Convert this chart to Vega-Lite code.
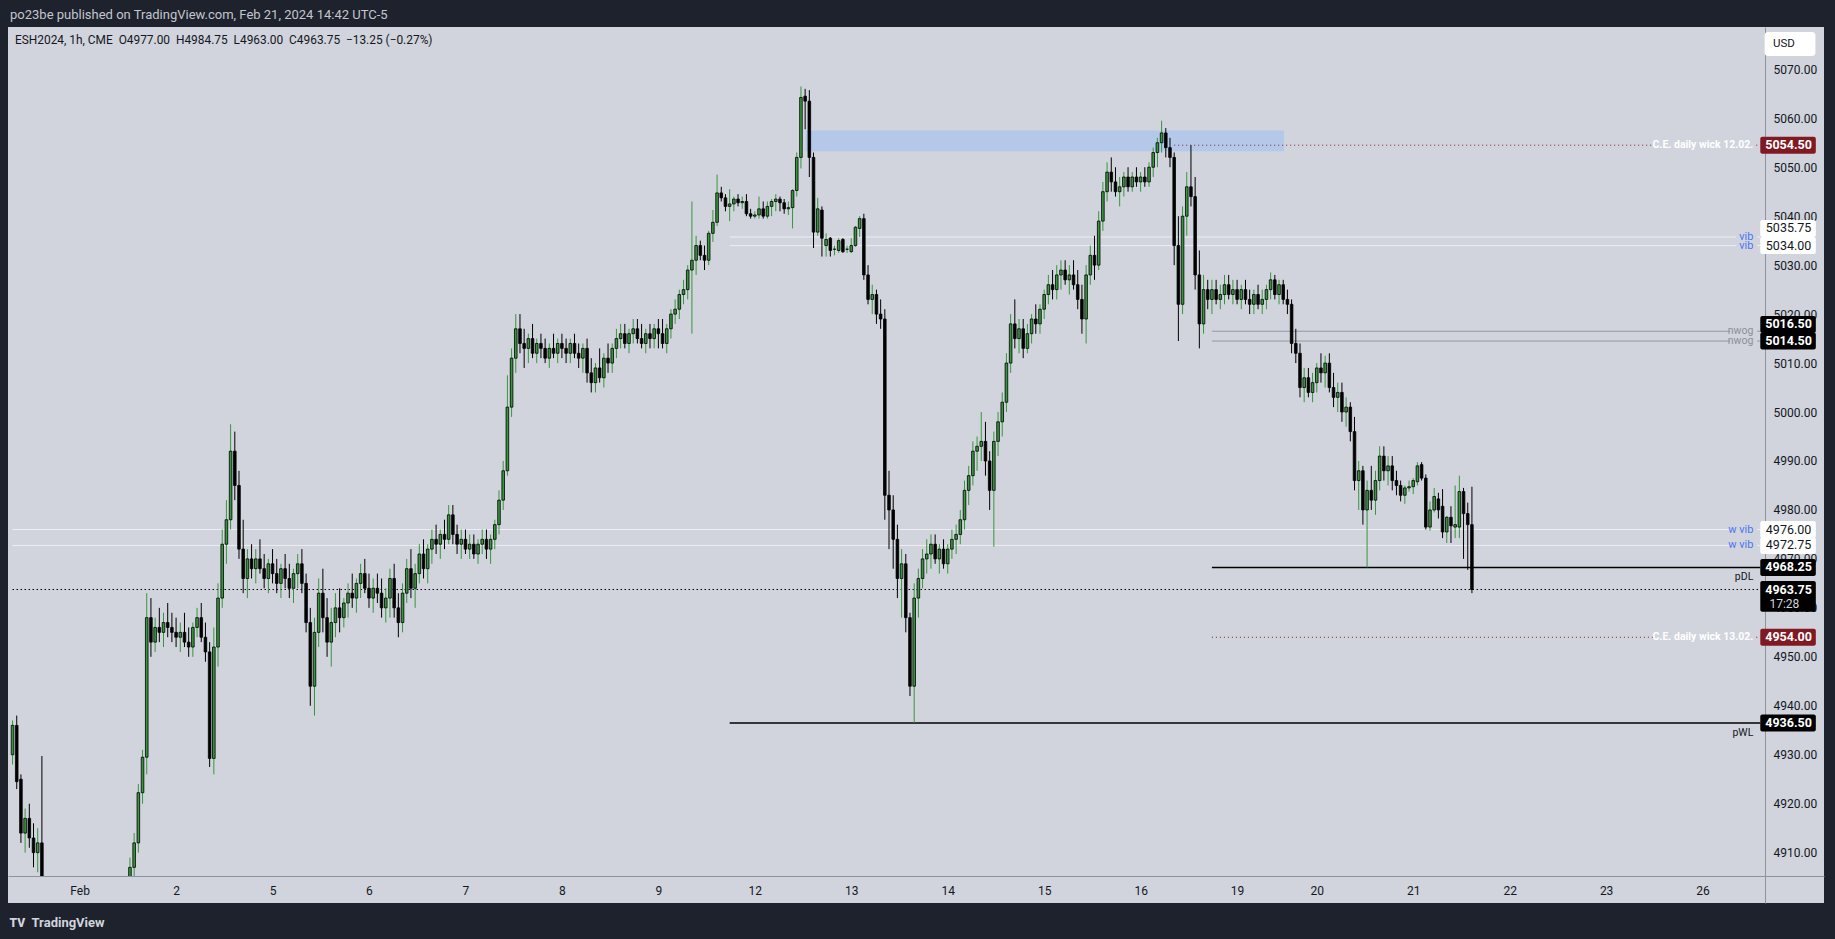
{
"$schema": "https://vega.github.io/schema/vega-lite/v6.json",
"width": 1816, "height": 876,
"autosize": {"type": "none"},
"padding": {"left": 8, "top": 27, "right": 11, "bottom": 36},
"background": "#1e222d",
"view": {"fill": "#d1d4dc", "stroke": null},
"config": {"font": "Roboto"},
"title": {"text": "po23be published on TradingView.com, Feb 21, 2024 14:42 UTC-5", "anchor": "start", "frame": "group", "offset": 5, "dx": 2, "color": "#c3c6ce", "fontSize": 13, "fontWeight": "normal", "font": "Roboto"},
"datasets": {
"candles": [
{"i":-16,"o":4930,"h":4937,"l":4928,"c":4936},{"i":-15,"o":4936,"h":4938,"l":4923,"c":4924.5},{"i":-14,"o":4925,"h":4926,"l":4912,"c":4914},{"i":-13,"o":4914,"h":4919,"l":4910,"c":4917},{"i":-12,"o":4917,"h":4920,"l":4911,"c":4913},{"i":-11,"o":4913,"h":4916,"l":4907,"c":4910},{"i":-10,"o":4910,"h":4915,"l":4906,"c":4912},{"i":-9,"o":4912,"h":4929.75,"l":4895,"c":4899},{"i":-8,"o":4899,"h":4903,"l":4884,"c":4888},{"i":-7,"o":4888,"h":4895,"l":4885,"c":4893},{"i":-6,"o":4893,"h":4897,"l":4889,"c":4891},{"i":-5,"o":4891,"h":4895,"l":4887,"c":4893},{"i":-4,"o":4893,"h":4897,"l":4890,"c":4892},{"i":-3,"o":4892,"h":4895,"l":4889,"c":4894},{"i":-2,"o":4894,"h":4898,"l":4891,"c":4893},{"i":-1,"o":4893,"h":4896,"l":4889,"c":4892},
{"i":0,"o":4892,"h":4896,"l":4888,"c":4894},{"i":1,"o":4894,"h":4897,"l":4890,"c":4891},{"i":2,"o":4891,"h":4895,"l":4887,"c":4893},{"i":3,"o":4893,"h":4899,"l":4891,"c":4897},{"i":4,"o":4897,"h":4900,"l":4893,"c":4895},{"i":5,"o":4895,"h":4899,"l":4892,"c":4898},{"i":6,"o":4898,"h":4902,"l":4895,"c":4900},{"i":7,"o":4900,"h":4903,"l":4894,"c":4896},{"i":8,"o":4896,"h":4901,"l":4892,"c":4899},{"i":9,"o":4899,"h":4903,"l":4895,"c":4901},{"i":10,"o":4901,"h":4904,"l":4897,"c":4900},{"i":11,"o":4900,"h":4905,"l":4896,"c":4903},{"i":12,"o":4903,"h":4909,"l":4900,"c":4907},{"i":13,"o":4907,"h":4914,"l":4905,"c":4912},{"i":14,"o":4912,"h":4924,"l":4910,"c":4922.25},{"i":15,"o":4922.25,"h":4931,"l":4920,"c":4929.5},{"i":16,"o":4929.5,"h":4963,"l":4926,"c":4958},{"i":17,"o":4958,"h":4962,"l":4950,"c":4953},{"i":18,"o":4953,"h":4958,"l":4951,"c":4956},{"i":19,"o":4956,"h":4960,"l":4953,"c":4955},{"i":20,"o":4955,"h":4959,"l":4952,"c":4957},{"i":21,"o":4957,"h":4961,"l":4954,"c":4956},{"i":22,"o":4956,"h":4959,"l":4953,"c":4955},
{"i":23,"o":4955,"h":4958,"l":4952,"c":4954},{"i":24,"o":4954,"h":4957,"l":4951,"c":4955},{"i":25,"o":4955,"h":4959,"l":4952,"c":4953},{"i":26,"o":4953,"h":4956,"l":4950,"c":4952},{"i":27,"o":4952,"h":4957,"l":4950,"c":4956},{"i":28,"o":4956,"h":4960,"l":4954,"c":4958},{"i":29,"o":4958,"h":4961,"l":4953,"c":4954},{"i":30,"o":4954,"h":4957,"l":4949,"c":4951},{"i":31,"o":4951,"h":4953,"l":4927.5,"c":4929.25},{"i":32,"o":4929.25,"h":4956,"l":4926,"c":4952},{"i":33,"o":4952,"h":4965,"l":4948,"c":4962},{"i":34,"o":4962,"h":4976,"l":4960,"c":4973},{"i":35,"o":4973,"h":4982,"l":4969,"c":4978},{"i":36,"o":4978,"h":4997.5,"l":4976,"c":4992},{"i":37,"o":4992,"h":4996,"l":4982,"c":4985},{"i":38,"o":4985,"h":4988,"l":4970,"c":4972},{"i":39,"o":4972,"h":4978,"l":4963,"c":4966},{"i":40,"o":4966,"h":4972,"l":4962,"c":4970},{"i":41,"o":4970,"h":4973,"l":4966,"c":4968},{"i":42,"o":4968,"h":4972,"l":4965,"c":4970},{"i":43,"o":4970,"h":4974,"l":4967,"c":4968},{"i":44,"o":4968,"h":4971,"l":4964,"c":4966},{"i":45,"o":4966,"h":4970,"l":4963,"c":4969},
{"i":46,"o":4969,"h":4972,"l":4965,"c":4967},{"i":47,"o":4967,"h":4970,"l":4963,"c":4965},{"i":48,"o":4965,"h":4969,"l":4962,"c":4968},{"i":49,"o":4968,"h":4971,"l":4964,"c":4966},{"i":50,"o":4966,"h":4969,"l":4962,"c":4964},{"i":51,"o":4964,"h":4968,"l":4961,"c":4967},{"i":52,"o":4967,"h":4971,"l":4964,"c":4969},{"i":53,"o":4969,"h":4972,"l":4963,"c":4965},{"i":54,"o":4965,"h":4967,"l":4955,"c":4957},{"i":55,"o":4957,"h":4960,"l":4940,"c":4944},{"i":56,"o":4944,"h":4958,"l":4938,"c":4955},{"i":57,"o":4955,"h":4966,"l":4952,"c":4963},{"i":58,"o":4963,"h":4968,"l":4955,"c":4958},{"i":59,"o":4958,"h":4962,"l":4950,"c":4953},{"i":60,"o":4953,"h":4960,"l":4948,"c":4957},{"i":61,"o":4957,"h":4963,"l":4954,"c":4960},{"i":62,"o":4960,"h":4964,"l":4955,"c":4958},{"i":63,"o":4958,"h":4962,"l":4956,"c":4961},{"i":64,"o":4961,"h":4965,"l":4958,"c":4963},{"i":65,"o":4963,"h":4967,"l":4960,"c":4962},{"i":66,"o":4962,"h":4966,"l":4959,"c":4965},{"i":67,"o":4965,"h":4969,"l":4962,"c":4967},{"i":68,"o":4967,"h":4970,"l":4963,"c":4964},
{"i":69,"o":4964,"h":4967,"l":4960,"c":4962},{"i":70,"o":4962,"h":4966,"l":4959,"c":4964},{"i":71,"o":4964,"h":4967,"l":4961,"c":4963},{"i":72,"o":4963,"h":4966,"l":4958,"c":4960},{"i":73,"o":4960,"h":4964,"l":4957,"c":4962},{"i":74,"o":4962,"h":4968,"l":4958,"c":4966},{"i":75,"o":4966,"h":4969,"l":4958,"c":4960},{"i":76,"o":4960,"h":4963,"l":4954,"c":4957},{"i":77,"o":4957,"h":4965,"l":4955,"c":4963},{"i":78,"o":4963,"h":4970,"l":4961,"c":4968},{"i":79,"o":4968,"h":4972,"l":4962,"c":4964},{"i":80,"o":4964,"h":4969,"l":4960,"c":4967},{"i":81,"o":4967,"h":4973,"l":4965,"c":4971},{"i":82,"o":4971,"h":4974,"l":4966,"c":4968},{"i":83,"o":4968,"h":4973,"l":4965,"c":4972},{"i":84,"o":4972,"h":4976,"l":4969,"c":4974},{"i":85,"o":4974,"h":4977,"l":4971,"c":4973},{"i":86,"o":4973,"h":4976,"l":4970,"c":4975},{"i":87,"o":4975,"h":4978,"l":4972,"c":4974},{"i":88,"o":4974,"h":4981,"l":4973,"c":4979},{"i":89,"o":4979,"h":4981,"l":4973,"c":4975},{"i":90,"o":4975,"h":4977,"l":4971,"c":4973},{"i":91,"o":4973,"h":4976,"l":4970,"c":4974},
{"i":92,"o":4974,"h":4976,"l":4971,"c":4972},{"i":93,"o":4972,"h":4975,"l":4970,"c":4973},{"i":94,"o":4973,"h":4975,"l":4970,"c":4971},{"i":95,"o":4971,"h":4974,"l":4969,"c":4973},{"i":96,"o":4973,"h":4976,"l":4971,"c":4974},{"i":97,"o":4974,"h":4976,"l":4970,"c":4972},{"i":98,"o":4972,"h":4975,"l":4969,"c":4974},{"i":99,"o":4974,"h":4978,"l":4972,"c":4977},{"i":100,"o":4977,"h":4984,"l":4975,"c":4982},{"i":101,"o":4982,"h":4990,"l":4980,"c":4988},{"i":102,"o":4988,"h":5007.5,"l":4987,"c":5001},{"i":103,"o":5001,"h":5013,"l":4999,"c":5011},{"i":104,"o":5011,"h":5020,"l":5008,"c":5017},{"i":105,"o":5017,"h":5020,"l":5012,"c":5014},{"i":106,"o":5014,"h":5017,"l":5009,"c":5013},{"i":107,"o":5013,"h":5016,"l":5010,"c":5015},{"i":108,"o":5015,"h":5018,"l":5011,"c":5012},{"i":109,"o":5012,"h":5015,"l":5010,"c":5014},{"i":110,"o":5014,"h":5016,"l":5011,"c":5013},{"i":111,"o":5013,"h":5015,"l":5010,"c":5011},{"i":112,"o":5011,"h":5014,"l":5009,"c":5013},{"i":113,"o":5013,"h":5016,"l":5011,"c":5012},{"i":114,"o":5012,"h":5015,"l":5010,"c":5014},
{"i":115,"o":5014,"h":5016,"l":5011,"c":5013},{"i":116,"o":5013,"h":5015,"l":5010,"c":5012},{"i":117,"o":5012,"h":5015,"l":5010,"c":5014},{"i":118,"o":5014,"h":5016,"l":5011,"c":5012},{"i":119,"o":5012,"h":5014,"l":5009,"c":5011},{"i":120,"o":5011,"h":5014,"l":5008,"c":5013},{"i":121,"o":5013,"h":5015,"l":5006,"c":5008},{"i":122,"o":5008,"h":5011,"l":5004,"c":5006},{"i":123,"o":5006,"h":5010,"l":5004,"c":5009},{"i":124,"o":5009,"h":5013,"l":5006,"c":5007},{"i":125,"o":5007,"h":5012,"l":5005,"c":5011},{"i":126,"o":5011,"h":5014,"l":5008,"c":5010},{"i":127,"o":5010,"h":5014,"l":5008,"c":5013},{"i":128,"o":5013,"h":5017,"l":5011,"c":5015},{"i":129,"o":5015,"h":5018,"l":5013,"c":5016},{"i":130,"o":5016,"h":5018,"l":5013,"c":5014},{"i":131,"o":5014,"h":5017,"l":5012,"c":5016},{"i":132,"o":5016,"h":5019,"l":5014,"c":5017},{"i":133,"o":5017,"h":5019,"l":5014,"c":5015},{"i":134,"o":5015,"h":5018,"l":5013,"c":5014},{"i":135,"o":5014,"h":5017,"l":5012,"c":5016},{"i":136,"o":5016,"h":5018,"l":5013,"c":5015},{"i":137,"o":5015,"h":5018,"l":5013,"c":5017},
{"i":138,"o":5017,"h":5019,"l":5013,"c":5016},{"i":139,"o":5016,"h":5019,"l":5013,"c":5014},{"i":140,"o":5014,"h":5018,"l":5012,"c":5017},{"i":141,"o":5017,"h":5021,"l":5015,"c":5020},{"i":142,"o":5020,"h":5023,"l":5018,"c":5021},{"i":143,"o":5021,"h":5025,"l":5019,"c":5024},{"i":144,"o":5024,"h":5027,"l":5022,"c":5025},{"i":145,"o":5025,"h":5030,"l":5023,"c":5029},{"i":146,"o":5029,"h":5043,"l":5016,"c":5031},{"i":147,"o":5031,"h":5036,"l":5028,"c":5034},{"i":148,"o":5034,"h":5035,"l":5031,"c":5032},{"i":149,"o":5032,"h":5034,"l":5029,"c":5031},{"i":150,"o":5031,"h":5037,"l":5030,"c":5036.5},{"i":151,"o":5036.5,"h":5041.25,"l":5034.75,"c":5038.75},{"i":152,"o":5038.75,"h":5048.5,"l":5038,"c":5044.75},{"i":153,"o":5044.75,"h":5046,"l":5043,"c":5043.75},{"i":154,"o":5043.75,"h":5044.5,"l":5041,"c":5042},{"i":155,"o":5042,"h":5045.5,"l":5039,"c":5042.5},{"i":156,"o":5042.5,"h":5044,"l":5041,"c":5043.5},{"i":157,"o":5043.5,"h":5044.5,"l":5042,"c":5042.75},{"i":158,"o":5042.75,"h":5044,"l":5041.5,"c":5043},{"i":159,"o":5043,"h":5044.5,"l":5040,"c":5040.5},{"i":160,"o":5040.5,"h":5041.5,"l":5039.5,"c":5040},
{"i":161,"o":5040,"h":5041,"l":5039.5,"c":5040.25},{"i":162,"o":5040.25,"h":5044,"l":5039.5,"c":5041.5},{"i":163,"o":5041.5,"h":5043,"l":5039.5,"c":5040},{"i":164,"o":5040,"h":5043,"l":5039.5,"c":5042},{"i":165,"o":5042,"h":5043.5,"l":5040,"c":5043},{"i":166,"o":5043,"h":5044.5,"l":5041,"c":5043.5},{"i":167,"o":5043.5,"h":5044,"l":5041,"c":5042.75},{"i":168,"o":5042.75,"h":5043.5,"l":5040.5,"c":5041.5},{"i":169,"o":5041.5,"h":5043,"l":5040.25,"c":5041.75},{"i":170,"o":5041.75,"h":5045.5,"l":5037.5,"c":5045.25},{"i":171,"o":5045.25,"h":5053,"l":5044,"c":5052},{"i":172,"o":5052,"h":5066.5,"l":5049.75,"c":5064.25},{"i":173,"o":5064.5,"h":5066,"l":5057.75,"c":5063.5},{"i":174,"o":5063.5,"h":5065.75,"l":5048,"c":5052},{"i":175,"o":5052,"h":5053,"l":5033.5,"c":5036.75},{"i":176,"o":5036.75,"h":5043.75,"l":5036,"c":5041.5},{"i":177,"o":5041.25,"h":5042,"l":5031.75,"c":5035.5},{"i":178,"o":5034,"h":5036.5,"l":5031.75,"c":5035.25},{"i":179,"o":5035.5,"h":5035.75,"l":5031.75,"c":5033},{"i":180,"o":5033.25,"h":5034,"l":5032,"c":5033.25},{"i":181,"o":5033,"h":5035.5,"l":5032.5,"c":5035},{"i":182,"o":5035.25,"h":5035.5,"l":5032.5,"c":5032.75},{"i":183,"o":5033.25,"h":5034,"l":5032.5,"c":5033.25},
{"i":184,"o":5032.75,"h":5035.5,"l":5032.5,"c":5034},{"i":185,"o":5034,"h":5038,"l":5033.75,"c":5037.75},{"i":186,"o":5037.5,"h":5040,"l":5035.75,"c":5039.5},{"i":187,"o":5039.5,"h":5040.5,"l":5027,"c":5028},{"i":188,"o":5028,"h":5030,"l":5022,"c":5023},{"i":189,"o":5023,"h":5026,"l":5020,"c":5024},{"i":190,"o":5024,"h":5025,"l":5018,"c":5020},{"i":191,"o":5020,"h":5023,"l":5017,"c":5019},{"i":192,"o":5019,"h":5021,"l":4978,"c":4983},{"i":193,"o":4983,"h":4988,"l":4972,"c":4980},{"i":194,"o":4980,"h":4983,"l":4968,"c":4974},{"i":195,"o":4974,"h":4977,"l":4962,"c":4966},{"i":196,"o":4966,"h":4972,"l":4958,"c":4969},{"i":197,"o":4969,"h":4971,"l":4955,"c":4958},{"i":198,"o":4958,"h":4959,"l":4942,"c":4944},{"i":199,"o":4944,"h":4965,"l":4936.5,"c":4962},{"i":200,"o":4962,"h":4968,"l":4958,"c":4966},{"i":201,"o":4966,"h":4972,"l":4964,"c":4970},{"i":202,"o":4970,"h":4974,"l":4967,"c":4971},{"i":203,"o":4971,"h":4975,"l":4968,"c":4973},{"i":204,"o":4973,"h":4975,"l":4969,"c":4970},{"i":205,"o":4970,"h":4973,"l":4967,"c":4972},{"i":206,"o":4972,"h":4974,"l":4968,"c":4969},
{"i":207,"o":4969,"h":4973,"l":4967,"c":4972},{"i":208,"o":4972,"h":4976,"l":4970,"c":4974},{"i":209,"o":4974,"h":4977,"l":4971,"c":4975},{"i":210,"o":4975,"h":4980,"l":4973,"c":4978},{"i":211,"o":4978,"h":4986,"l":4976,"c":4984},{"i":212,"o":4984,"h":4989,"l":4981,"c":4987},{"i":213,"o":4987,"h":4994,"l":4985,"c":4992},{"i":214,"o":4992,"h":4995,"l":4988,"c":4993},{"i":215,"o":4993,"h":5000,"l":4990,"c":4994},{"i":216,"o":4994,"h":4998,"l":4987,"c":4990},{"i":217,"o":4990,"h":4992,"l":4980,"c":4984},{"i":218,"o":4984,"h":4996,"l":4972.5,"c":4994},{"i":219,"o":4994,"h":5000,"l":4991,"c":4998},{"i":220,"o":4998,"h":5004,"l":4995,"c":5002},{"i":221,"o":5002,"h":5012,"l":5000,"c":5010},{"i":222,"o":5010,"h":5020,"l":5008,"c":5018},{"i":223,"o":5018,"h":5023,"l":5013,"c":5015},{"i":224,"o":5015,"h":5019,"l":5012,"c":5017},{"i":225,"o":5017,"h":5019,"l":5011,"c":5013},{"i":226,"o":5013,"h":5018,"l":5012,"c":5016},{"i":227,"o":5016,"h":5020,"l":5014,"c":5019},{"i":228,"o":5019,"h":5022,"l":5016,"c":5018},{"i":229,"o":5018,"h":5022,"l":5016,"c":5021},
{"i":230,"o":5021,"h":5025,"l":5019,"c":5024},{"i":231,"o":5024,"h":5028,"l":5022,"c":5026},{"i":232,"o":5026,"h":5029,"l":5023,"c":5025},{"i":233,"o":5025,"h":5030,"l":5023,"c":5028},{"i":234,"o":5028,"h":5031,"l":5025,"c":5029},{"i":235,"o":5029,"h":5031,"l":5026,"c":5027},{"i":236,"o":5027,"h":5030,"l":5024,"c":5028},{"i":237,"o":5028,"h":5031,"l":5025,"c":5026},{"i":238,"o":5026,"h":5029,"l":5021,"c":5023},{"i":239,"o":5023,"h":5026,"l":5016,"c":5019},{"i":240,"o":5019,"h":5030,"l":5014,"c":5028},{"i":241,"o":5028,"h":5034,"l":5026,"c":5032},{"i":242,"o":5032,"h":5036,"l":5027,"c":5030},{"i":243,"o":5030,"h":5041,"l":5029,"c":5039},{"i":244,"o":5039,"h":5047,"l":5037,"c":5045},{"i":245,"o":5045,"h":5051,"l":5043,"c":5049},{"i":246,"o":5049,"h":5052,"l":5045,"c":5047},{"i":247,"o":5047,"h":5050,"l":5044,"c":5045},{"i":248,"o":5045,"h":5048,"l":5042,"c":5046},{"i":249,"o":5046,"h":5049,"l":5044,"c":5048},{"i":250,"o":5048,"h":5050,"l":5045,"c":5046},{"i":251,"o":5046,"h":5049,"l":5045,"c":5048},{"i":252,"o":5048,"h":5050,"l":5046,"c":5047},
{"i":253,"o":5047,"h":5049,"l":5045,"c":5048},{"i":254,"o":5048,"h":5050,"l":5046,"c":5047},{"i":255,"o":5047,"h":5051,"l":5046,"c":5050},{"i":256,"o":5050,"h":5054,"l":5048,"c":5053},{"i":257,"o":5053,"h":5056,"l":5050,"c":5055},{"i":258,"o":5055,"h":5059.5,"l":5053,"c":5057},{"i":259,"o":5057,"h":5058,"l":5052,"c":5054},{"i":260,"o":5054,"h":5056,"l":5050,"c":5052},{"i":261,"o":5052,"h":5053,"l":5030,"c":5034},{"i":262,"o":5034,"h":5040,"l":5014.5,"c":5022},{"i":263,"o":5022,"h":5042,"l":5020,"c":5040},{"i":264,"o":5040,"h":5049,"l":5036,"c":5046},{"i":265,"o":5046,"h":5054.5,"l":5042,"c":5044},{"i":266,"o":5044,"h":5048,"l":5025,"c":5028},{"i":267,"o":5028,"h":5033,"l":5013,"c":5018},{"i":268,"o":5018,"h":5028,"l":5016,"c":5025},{"i":269,"o":5025,"h":5027,"l":5021,"c":5023},{"i":270,"o":5023,"h":5027,"l":5020,"c":5025},{"i":271,"o":5025,"h":5027,"l":5022,"c":5023},{"i":272,"o":5023,"h":5026,"l":5021,"c":5024},{"i":273,"o":5024,"h":5028,"l":5022,"c":5026},{"i":274,"o":5026,"h":5028,"l":5023,"c":5024},{"i":275,"o":5024,"h":5027,"l":5022,"c":5025},
{"i":276,"o":5025,"h":5027,"l":5022,"c":5023},{"i":277,"o":5023,"h":5026,"l":5021,"c":5025},{"i":278,"o":5025,"h":5027,"l":5022,"c":5023},{"i":279,"o":5023,"h":5025,"l":5020,"c":5022},{"i":280,"o":5022,"h":5025,"l":5020,"c":5024},{"i":281,"o":5024,"h":5026,"l":5021,"c":5022},{"i":282,"o":5022,"h":5025,"l":5020,"c":5023},{"i":283,"o":5023,"h":5026,"l":5021,"c":5025},{"i":284,"o":5025,"h":5028.5,"l":5023,"c":5027},{"i":285,"o":5027,"h":5028,"l":5023,"c":5024},{"i":286,"o":5024,"h":5027,"l":5022,"c":5026},{"i":287,"o":5026,"h":5027,"l":5022,"c":5023},{"i":288,"o":5023,"h":5025,"l":5020,"c":5022},{"i":289,"o":5022,"h":5023,"l":5012,"c":5014},{"i":290,"o":5014,"h":5017,"l":5010,"c":5012},{"i":291,"o":5012,"h":5014,"l":5003,"c":5005},{"i":292,"o":5005,"h":5009,"l":5002,"c":5007},{"i":293,"o":5007,"h":5009,"l":5003,"c":5004},{"i":294,"o":5004,"h":5008,"l":5002,"c":5006},
{"i":295,"o":5006,"h":5010,"l":5004,"c":5009},{"i":296,"o":5009,"h":5012,"l":5006,"c":5008},{"i":297,"o":5008,"h":5011.5,"l":5005,"c":5010},{"i":298,"o":5010,"h":5012,"l":5004,"c":5005},{"i":299,"o":5005,"h":5008,"l":5001,"c":5003},{"i":300,"o":5003,"h":5006,"l":5000,"c":5004},{"i":301,"o":5004,"h":5006,"l":4998,"c":5000},{"i":302,"o":5000,"h":5003,"l":4997,"c":5001},{"i":303,"o":5001,"h":5002,"l":4994,"c":4996},{"i":304,"o":4996,"h":4999,"l":4984,"c":4986},{"i":305,"o":4986,"h":4990,"l":4980,"c":4988},{"i":306,"o":4988,"h":4989,"l":4977,"c":4980},{"i":307,"o":4980,"h":4986,"l":4968.25,"c":4984},{"i":308,"o":4984,"h":4989,"l":4980,"c":4982},{"i":309,"o":4982,"h":4988,"l":4979,"c":4986},{"i":310,"o":4986,"h":4993,"l":4984,"c":4991},{"i":311,"o":4991,"h":4993,"l":4986,"c":4988},{"i":312,"o":4988,"h":4991,"l":4985,"c":4989},{"i":313,"o":4989,"h":4991,"l":4984,"c":4986},{"i":314,"o":4986,"h":4988,"l":4983,"c":4985},{"i":315,"o":4985,"h":4986,"l":4981.75,"c":4983},{"i":316,"o":4983,"h":4985,"l":4981.25,"c":4984.5},{"i":317,"o":4984.5,"h":4986,"l":4983.75,"c":4984.75},
{"i":318,"o":4984.75,"h":4986.5,"l":4983.25,"c":4986},{"i":319,"o":4985.75,"h":4989.75,"l":4985,"c":4989},{"i":320,"o":4989.25,"h":4989.75,"l":4986,"c":4986.5},{"i":321,"o":4986.5,"h":4987.25,"l":4976,"c":4976.5},{"i":322,"o":4976.5,"h":4981.75,"l":4975.75,"c":4980},{"i":323,"o":4980,"h":4984.5,"l":4979.5,"c":4982.75},{"i":324,"o":4982.25,"h":4983.5,"l":4978.25,"c":4980},{"i":325,"o":4980.75,"h":4984.25,"l":4974.25,"c":4975.5},{"i":326,"o":4975.5,"h":4978.75,"l":4973.25,"c":4978.5},{"i":327,"o":4978.5,"h":4980.75,"l":4973.25,"c":4976.75},{"i":328,"o":4976.5,"h":4985,"l":4974.25,"c":4977},{"i":329,"o":4976.5,"h":4987,"l":4974.25,"c":4983.75},{"i":330,"o":4983.75,"h":4984.5,"l":4970,"c":4979.25},{"i":331,"o":4979.25,"h":4981.5,"l":4967.75,"c":4977},{"i":332,"o":4977,"h":4984.75,"l":4963,"c":4963.75}
],
"levels": [
{"price":5054.5,"from":261,"kind":"ce","label":"C.E. daily wick 12.02.","sub":""},
{"price":5035.75,"from":155,"kind":"vib","label":"vib","sub":""},
{"price":5034.0,"from":155,"kind":"vib","label":"vib","sub":""},
{"price":5016.5,"from":270,"kind":"nwog","label":"nwog","sub":""},
{"price":5014.5,"from":270,"kind":"nwog","label":"nwog","sub":""},
{"price":4976.0,"from":-16,"kind":"wvib","label":"w vib","sub":""},
{"price":4972.75,"from":-16,"kind":"wvib","label":"w vib","sub":""},
{"price":4968.25,"from":270,"kind":"pdl","label":"pDL","sub":""},
{"price":4963.75,"from":-16,"kind":"last","label":"","sub":"17:28"},
{"price":4954.0,"from":270,"kind":"ce","label":"C.E. daily wick 13.02.","sub":""},
{"price":4936.5,"from":155,"kind":"pwl","label":"pWL","sub":""}
],
"zones": [{"start":173.1,"end":287.2,"low":5053.25,"high":5057.5}]
},
"layer": [
{"data": {"name": "zones"}, "mark": {"type": "rect", "fill": "#b4c8e9", "clip": true},
 "encoding": {"x": {"field": "start", "type": "quantitative"}, "x2": {"field": "end"}, "y": {"field": "low", "type": "quantitative"}, "y2": {"field": "high"}}},
{"data": {"name": "levels"}, "transform": [{"filter": "datum.kind == 'ce'"}],
 "mark": {"type": "rule", "stroke": "#8b1d26", "strokeWidth": 1, "strokeDash": [1, 3], "clip": true},
 "encoding": {"x": {"field": "from", "type": "quantitative"}, "x2": {"datum": 375.2}, "y": {"field": "price", "type": "quantitative"}}},
{"data": {"name": "levels"}, "transform": [{"filter": "datum.kind == 'vib'"}],
 "mark": {"type": "rule", "stroke": "#eceef3", "strokeWidth": 1, "clip": true},
 "encoding": {"x": {"field": "from", "type": "quantitative"}, "x2": {"datum": 395.0}, "y": {"field": "price", "type": "quantitative"}}},
{"data": {"name": "levels"}, "transform": [{"filter": "datum.kind == 'nwog'"}],
 "mark": {"type": "rule", "stroke": "#9598a1", "strokeWidth": 1, "clip": true},
 "encoding": {"x": {"field": "from", "type": "quantitative"}, "x2": {"datum": 393.6}, "y": {"field": "price", "type": "quantitative"}}},
{"data": {"name": "levels"}, "transform": [{"filter": "datum.kind == 'wvib'"}],
 "mark": {"type": "rule", "stroke": "#eceef3", "strokeWidth": 1, "clip": true},
 "encoding": {"x": {"field": "from", "type": "quantitative"}, "x2": {"datum": 393.4}, "y": {"field": "price", "type": "quantitative"}}},
{"data": {"name": "levels"}, "transform": [{"filter": "datum.kind == 'pdl' || datum.kind == 'pwl'"}],
 "mark": {"type": "rule", "stroke": "#000000", "strokeWidth": 1.5, "clip": true},
 "encoding": {"x": {"field": "from", "type": "quantitative"}, "x2": {"datum": 400.76}, "y": {"field": "price", "type": "quantitative"}}},
{"data": {"name": "levels"}, "transform": [{"filter": "datum.kind == 'last'"}],
 "mark": {"type": "rule", "stroke": "#000000", "strokeWidth": 1, "strokeDash": [1.5, 2.5], "clip": true},
 "encoding": {"x": {"field": "from", "type": "quantitative"}, "x2": {"datum": 400.76}, "y": {"field": "price", "type": "quantitative"}}},
{"data": {"name": "levels"}, "transform": [{"filter": "datum.kind == 'ce'"}],
 "mark": {"type": "rule", "stroke": "#8b1d26", "strokeWidth": 1, "strokeDash": [1, 3]},
 "encoding": {"x": {"datum": 399.8}, "x2": {"datum": 400.76}, "y": {"field": "price", "type": "quantitative"}}},
{"data": {"name": "levels"}, "transform": [{"filter": "datum.kind == 'vib' || datum.kind == 'wvib' || datum.kind == 'nwog'"}],
 "mark": {"type": "rule", "strokeWidth": 1},
 "encoding": {"x": {"datum": 400.0}, "x2": {"datum": 400.76}, "y": {"field": "price", "type": "quantitative"},
  "color": {"condition": {"test": "datum.kind == 'nwog'", "value": "#9598a1"}, "value": "#eceef3"}}},
{"data": {"name": "candles"},
 "mark": {"type": "rule", "strokeWidth": 1, "clip": true},
 "encoding": {
  "x": {"field": "i", "type": "quantitative", "title": "TradingView",
   "scale": {"domain": [-15.89, 414.76], "nice": false, "zero": false},
   "axis": {"orient": "bottom", "offset": -27, "zindex": 1, "grid": false, "ticks": false, "tickSize": 0,
    "values": [0,23,46,69,92,115,138,161,184,207,230,253,276,295,318,341,364,387],
    "labelExpr": "['Feb','2','5','6','7','8','9','12','13','14','15','16','19','20','21','22','23','26'][indexof([0,23,46,69,92,115,138,161,184,207,230,253,276,295,318,341,364,387], datum.value)]",
    "labelFlush": false, "labelOverlap": false, "labelColor": "#131722", "labelFontSize": 12, "labelFont": "Roboto", "labelPadding": 14, "labelBaseline": "middle",
    "domainColor": "#8f929b", "domainWidth": 1,
    "titleX": 23, "titleY": 46, "titleAlign": "left", "titleAnchor": null, "titleBaseline": "middle", "titleColor": "#d1d4dc", "titleFontSize": 13, "titleFontWeight": "bold", "titleFont": "Roboto"}},
  "y": {"field": "l", "type": "quantitative", "title": "TV",
   "scale": {"domain": [4899.72, 5078.64], "nice": false, "zero": false},
   "axis": {"orient": "right", "offset": -59, "zindex": 0, "grid": false, "ticks": false, "tickSize": 0,
    "values": [4910,4920,4930,4940,4950,4960,4970,4980,4990,5000,5010,5020,5030,5040,5050,5060,5070],
    "format": ".2f", "labelAlign": "left", "labelBaseline": "middle", "labelPadding": 8, "labelColor": "#131722", "labelFontSize": 12, "labelFont": "Roboto",
    "labelFlush": false, "labelOverlap": false, "domainColor": "#8f929b", "domainWidth": 1,
    "titleX": -1756, "titleY": 895, "titleAngle": 0, "titleAlign": "left", "titleAnchor": null, "titleBaseline": "middle", "titleColor": "#d1d4dc", "titleFontSize": 12, "titleFontWeight": 900, "titleFont": "Roboto"}},
  "y2": {"field": "h"},
  "color": {"condition": {"test": "datum.c >= datum.o", "value": "#35973b"}, "value": "#000000"}}},
{"data": {"name": "candles"},
 "mark": {"type": "bar", "width": 2.6, "stroke": "#000000", "strokeWidth": 0.8, "clip": true, "orient": "vertical"},
 "encoding": {"x": {"field": "i", "type": "quantitative"}, "y": {"field": "o", "type": "quantitative"}, "y2": {"field": "c"},
  "fill": {"condition": {"test": "datum.c >= datum.o", "value": "#35973b"}, "value": "#000000"}}},
{"data": {"values": [{}]}, "mark": {"type": "rect", "fill": "#d1d4dc"},
 "encoding": {"x": {"datum": -15.89}, "x2": {"datum": 400.7}, "y": {"datum": 4899.72}, "y2": {"datum": 4905.2}}},
{"data": {"name": "levels"}, "transform": [{"filter": "datum.kind == 'ce'"}],
 "mark": {"type": "text", "align": "right", "baseline": "middle", "fontSize": 10.5, "fontWeight": "bold", "color": "#ffffff"},
 "encoding": {"x": {"datum": 399.1}, "y": {"field": "price", "type": "quantitative"}, "text": {"field": "label"}}},
{"data": {"name": "levels"}, "transform": [{"filter": "datum.kind == 'vib' || datum.kind == 'wvib'"}],
 "mark": {"type": "text", "align": "right", "baseline": "middle", "fontSize": 11, "color": "#4a74f5"},
 "encoding": {"x": {"datum": 399.1}, "y": {"field": "price", "type": "quantitative"}, "text": {"field": "label"}}},
{"data": {"name": "levels"}, "transform": [{"filter": "datum.kind == 'nwog'"}],
 "mark": {"type": "text", "align": "right", "baseline": "middle", "fontSize": 10.5, "color": "#8c8f98"},
 "encoding": {"x": {"datum": 399.1}, "y": {"field": "price", "type": "quantitative"}, "text": {"field": "label"}}},
{"data": {"name": "levels"}, "transform": [{"filter": "datum.kind == 'pdl' || datum.kind == 'pwl'"}],
 "mark": {"type": "text", "align": "right", "baseline": "middle", "fontSize": 10.5, "color": "#131722", "dy": 10},
 "encoding": {"x": {"datum": 399.1}, "y": {"field": "price", "type": "quantitative"}, "text": {"field": "label"}}},
{"data": {"name": "levels"}, "transform": [{"filter": "datum.kind != 'last' && datum.price != 5035.75 && datum.price != 5016.5"}],
 "mark": {"type": "rect", "yOffset": -8.5, "y2Offset": 8.5, "cornerRadius": 2},
 "encoding": {"x": {"datum": 400.76}, "x2": {"datum": 414.0}, "y": {"field": "price", "type": "quantitative"}, "y2": {"field": "price"},
  "fill": {"condition": [{"test": "datum.kind == 'ce'", "value": "#801922"}, {"test": "datum.kind == 'vib' || datum.kind == 'wvib'", "value": "#ffffff"}], "value": "#000000"}}},
{"data": {"name": "levels"}, "transform": [{"filter": "datum.price == 5035.75"}],
 "mark": {"type": "rect", "yOffset": -17, "y2Offset": 0, "cornerRadius": 2, "fill": "#ffffff"},
 "encoding": {"x": {"datum": 400.76}, "x2": {"datum": 414.0}, "y": {"field": "price", "type": "quantitative"}, "y2": {"field": "price"}}},
{"data": {"name": "levels"}, "transform": [{"filter": "datum.price == 5016.5"}],
 "mark": {"type": "rect", "yOffset": -15.2, "y2Offset": 1.8, "cornerRadius": 2, "fill": "#000000"},
 "encoding": {"x": {"datum": 400.76}, "x2": {"datum": 414.0}, "y": {"field": "price", "type": "quantitative"}, "y2": {"field": "price"}}},
{"data": {"name": "levels"}, "transform": [{"filter": "datum.kind == 'last'"}],
 "mark": {"type": "rect", "yOffset": -8.5, "y2Offset": 22.2, "cornerRadius": 2, "fill": "#000000"},
 "encoding": {"x": {"datum": 400.76}, "x2": {"datum": 414.0}, "y": {"field": "price", "type": "quantitative"}, "y2": {"field": "price"}}},
{"data": {"name": "levels"}, "transform": [{"filter": "datum.kind != 'vib' && datum.kind != 'wvib' && datum.price != 5016.5"}],
 "mark": {"type": "text", "align": "center", "baseline": "middle", "fontSize": 12.5, "fontWeight": "bold", "color": "#ffffff"},
 "encoding": {"x": {"datum": 407.5}, "y": {"field": "price", "type": "quantitative"}, "text": {"field": "price", "type": "quantitative", "format": ".2f"}}},
{"data": {"name": "levels"}, "transform": [{"filter": "datum.price == 5016.5"}],
 "mark": {"type": "text", "align": "center", "baseline": "middle", "fontSize": 12.5, "fontWeight": "bold", "color": "#ffffff", "dy": -6.8},
 "encoding": {"x": {"datum": 407.5}, "y": {"field": "price", "type": "quantitative"}, "text": {"field": "price", "type": "quantitative", "format": ".2f"}}},
{"data": {"name": "levels"}, "transform": [{"filter": "(datum.kind == 'vib' || datum.kind == 'wvib') && datum.price != 5035.75"}],
 "mark": {"type": "text", "align": "center", "baseline": "middle", "fontSize": 12.5, "color": "#131722"},
 "encoding": {"x": {"datum": 407.5}, "y": {"field": "price", "type": "quantitative"}, "text": {"field": "price", "type": "quantitative", "format": ".2f"}}},
{"data": {"name": "levels"}, "transform": [{"filter": "datum.price == 5035.75"}],
 "mark": {"type": "text", "align": "center", "baseline": "middle", "fontSize": 12.5, "color": "#131722", "dy": -8.5},
 "encoding": {"x": {"datum": 407.5}, "y": {"field": "price", "type": "quantitative"}, "text": {"field": "price", "type": "quantitative", "format": ".2f"}}},
{"data": {"name": "levels"}, "transform": [{"filter": "datum.kind == 'last'"}],
 "mark": {"type": "text", "align": "center", "baseline": "middle", "fontSize": 12, "color": "#d1d4dc", "dy": 14},
 "encoding": {"x": {"datum": 406.5}, "y": {"field": "price", "type": "quantitative"}, "text": {"field": "sub"}}},
{"data": {"values": [{}]}, "mark": {"type": "rect", "fill": "#ffffff", "cornerRadius": 3},
 "encoding": {"x": {"datum": 401.8}, "x2": {"datum": 413.9}, "y": {"datum": 5072.72}, "y2": {"datum": 5077.62}}},
{"data": {"values": [{}]}, "mark": {"type": "text", "text": "USD", "align": "center", "baseline": "middle", "fontSize": 11.5, "color": "#131722"},
 "encoding": {"x": {"datum": 406.4}, "y": {"datum": 5075.1}}},
{"data": {"values": [{}]}, "mark": {"type": "text", "text": "ESH2024, 1h, CME\u00a0\u00a0O4977.00\u00a0\u00a0H4984.75\u00a0\u00a0L4963.00\u00a0\u00a0C4963.75\u00a0\u00a0\u221213.25 (\u22120.27%)", "align": "left", "baseline": "middle", "fontSize": 11.9, "color": "#131722"},
 "encoding": {"x": {"datum": -15.41}, "y": {"datum": 5075.98}}}
]
}
